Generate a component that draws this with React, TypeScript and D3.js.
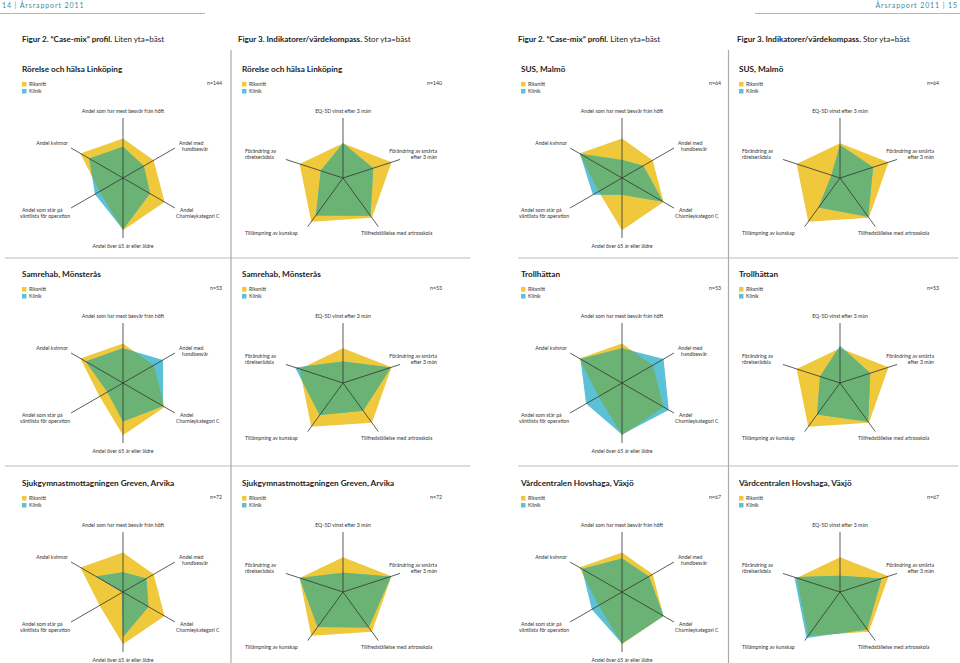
import React from "react";
import * as d3 from "d3";

const W = 960;
const H = 663;

const hexAxes = [
  "Andel som har mest besvär från höft",
  "Andel med handbesvär",
  "Andel Charnleykategori C",
  "Andel över 65 år eller äldre",
  "Andel som står på väntlista för operation",
  "Andel kvinnor",
];
const pentAxes = [
  "EQ-5D vinst efter 3 mån",
  "Förändring av smärta efter 3 mån",
  "Tillfredställelse med artrosskola",
  "Tillämpning av kunskap",
  "Förändring av rörelserädsla",
];

const riksHex = [0.66, 0.59, 0.8, 0.87, 0.45, 0.82];
const riksPent = [0.58, 0.85, 0.82, 0.9, 0.76];

const clinicNames = [
  "Rörelse och hälsa Linköping",
  "SUS, Malmö",
  "Samrehab, Mönsterås",
  "Trollhättan",
  "Sjukgymnastmottagningen Greven, Arvika",
  "Vårdcentralen Hovshaga, Växjö",
];
const nHex = [144, 64, 53, 53, 72, 67];
const nPent = [140, 64, 53, 53, 72, 67];

const klinikHex = [
  [0.52, 0.4, 0.52, 0.86, 0.54, 0.65],
  [0.3, 0.41, 0.79, 0.28, 0.56, 0.81],
  [0.58, 0.77, 0.77, 0.64, 0.3, 0.72],
  [0.58, 0.8, 0.9, 0.86, 0.69, 0.8],
  [0.33, 0.45, 0.49, 0.75, 0.02, 0.52],
  [0.56, 0.52, 0.8, 0.86, 0.58, 0.77],
];
const klinikPent = [
  [0.58, 0.53, 0.78, 0.77, 0.39],
  [0.55, 0.58, 0.8, 0.61, 0.15],
  [0.36, 0.84, 0.57, 0.66, 0.84],
  [0.62, 0.53, 0.8, 0.65, 0.35],
  [0.32, 0.84, 0.73, 0.72, 0.76],
  [0.27, 0.73, 0.77, 0.95, 0.8],
];

const YELLOW = "#EFC83C";
const BLUE = "#5CC1D5";
const GREEN = "#6BB374";
const TEXT = "#333";
const FONT = "Lato, 'Open Sans', sans-serif";
const R = 60;

const rScale = d3.scaleLinear().domain([0, 1]).range([0, R]);

function Radar({ id, cx, cy, name, n, riks, klinik, kind }) {
  const k = riks.length;
  const angle = (i) => (i * 2 * Math.PI) / k;
  const line = d3
    .lineRadial()
    .angle((d, i) => angle(i))
    .radius((d) => rScale(d))
    .curve(d3.curveLinearClosed);
  const tx = cx - 101;
  const lab = { fontFamily: FONT, fontSize: 5.2, fill: TEXT };
  return (
    <g>
      <text x={tx} y={cy - 106} fontFamily={FONT} fontSize={8.2} fontWeight={700} fill="#222">
        {name}
      </text>
      <rect x={tx} y={cy - 96} width={4.5} height={4.5} fill={YELLOW} />
      <rect x={tx} y={cy - 89} width={4.5} height={4.5} fill={BLUE} />
      <text x={tx + 7} y={cy - 92} {...lab}>Riksnitt</text>
      <text x={tx + 7} y={cy - 85} {...lab}>Klinik</text>
      <text x={cx + 99} y={cy - 93} textAnchor="end" {...lab}>{"n=" + n}</text>
      <defs>
        <clipPath id={"clip" + id}>
          <path d={line(riks)} transform={`translate(${cx},${cy})`} />
        </clipPath>
      </defs>
      <path d={line(riks)} transform={`translate(${cx},${cy})`} fill={YELLOW} />
      <path d={line(klinik)} transform={`translate(${cx},${cy})`} fill={BLUE} />
      <g clipPath={`url(#clip${id})`}>
        <path d={line(klinik)} transform={`translate(${cx},${cy})`} fill={GREEN} />
      </g>
      {kind === "hex" ? (
        <g stroke="#333" strokeWidth={0.8}>
          {[0, 1, 2].map((i) => {
            const a = angle(i);
            return (
              <line
                key={i}
                x1={cx + rScale(1) * Math.sin(a)}
                y1={cy - rScale(1) * Math.cos(a)}
                x2={cx - rScale(1) * Math.sin(a)}
                y2={cy + rScale(1) * Math.cos(a)}
              />
            );
          })}
        </g>
      ) : (
        <g stroke="#333" strokeWidth={0.8}>
          {riks.map((_, i) => {
            const a = angle(i);
            return (
              <line
                key={i}
                x1={cx}
                y1={cy}
                x2={cx + rScale(1) * Math.sin(a)}
                y2={cy - rScale(1) * Math.cos(a)}
              />
            );
          })}
        </g>
      )}
      {kind === "hex" ? (
        <g {...lab}>
          <text x={cx} y={cy - 65} textAnchor="middle">{hexAxes[0]}</text>
          <text x={cx + 56} y={cy - 33}>Andel med</text>
          <text x={cx + 59} y={cy - 27}>handbesvär</text>
          <text x={cx + 57} y={cy + 34}>Andel</text>
          <text x={cx + 53} y={cy + 40}>Charnleykategori C</text>
          <text x={cx} y={cy + 70} textAnchor="middle">{hexAxes[3]}</text>
          <text x={cx - 101} y={cy + 34}>Andel som står på</text>
          <text x={cx - 103} y={cy + 40}>väntlista för operation</text>
          <text x={cx - 55} y={cy - 33} textAnchor="end">{hexAxes[5]}</text>
        </g>
      ) : (
        <g {...lab}>
          <text x={cx} y={cy - 65} textAnchor="middle">{pentAxes[0]}</text>
          <text x={cx + 94} y={cy - 25} textAnchor="end">Förändring av smärta</text>
          <text x={cx + 94} y={cy - 19} textAnchor="end">efter 3 mån</text>
          <text x={cx + 18} y={cy + 57}>{pentAxes[2]}</text>
          <text x={cx - 98} y={cy + 57}>{pentAxes[3]}</text>
          <text x={cx - 98} y={cy - 25}>Förändring av</text>
          <text x={cx - 98} y={cy - 19}>rörelserädsla</text>
        </g>
      )}
    </g>
  );
}

const colCx = [123, 343, 622, 840];
const rowCy = [178, 383, 592];

export default function App() {
  const panels = [];
  clinicNames.forEach((name, ci) => {
    const row = Math.floor(ci / 2);
    const page = ci % 2;
    panels.push(
      <Radar
        key={"h" + ci}
        id={"h" + ci}
        cx={colCx[page * 2]}
        cy={rowCy[row]}
        name={name}
        n={nHex[ci]}
        riks={riksHex}
        klinik={klinikHex[ci]}
        kind="hex"
      />
    );
    panels.push(
      <Radar
        key={"p" + ci}
        id={"p" + ci}
        cx={colCx[page * 2 + 1]}
        cy={rowCy[row]}
        name={name}
        n={nPent[ci]}
        riks={riksPent}
        klinik={klinikPent[ci]}
        kind="pent"
      />
    );
  });
  const figT = { fontFamily: FONT, fontSize: 8, fill: "#222" };
  return (
    <svg
      width={W}
      height={H}
      style={{ position: "absolute", left: 0, top: 0, background: "#fff" }}
    >
      <rect width={W} height={H} fill="#fff" />
      <text x={2} y={8} fontFamily={FONT} fontSize={7} fill="#3d8aa3" letterSpacing={0.9}>
        14 | Årsrapport 2011
      </text>
      <line x1={0} x2={205} y1={13.5} y2={13.5} stroke="#7fb3c4" strokeWidth={0.8} />
      <text x={958} y={8} textAnchor="end" fontFamily={FONT} fontSize={7} fill="#3d8aa3" letterSpacing={0.9}>
        Årsrapport 2011 | 15
      </text>
      <line x1={755} x2={960} y1={13.5} y2={13.5} stroke="#7fb3c4" strokeWidth={0.8} />

      {[22, 518].map((x) => (
        <text key={"f2" + x} x={x} y={42} {...figT}>
          <tspan fontWeight={700}>Figur 2. “Case-mix” profil.</tspan>
          <tspan> Liten yta=bäst</tspan>
        </text>
      ))}
      {[238, 737].map((x) => (
        <text key={"f3" + x} x={x} y={42} {...figT}>
          <tspan fontWeight={700}>Figur 3. Indikatorer/värdekompass.</tspan>
          <tspan> Stor yta=bäst</tspan>
        </text>
      ))}
      <line x1={231} x2={231} y1={50} y2={H} stroke="#aaa" strokeWidth={1.2} />
      <line x1={728.5} x2={728.5} y1={50} y2={H} stroke="#aaa" strokeWidth={1.2} />
      {[258, 466].map((y) => (
        <g key={"s" + y}>
          <line x1={5} x2={470} y1={y} y2={y} stroke="#aaa" strokeWidth={0.8} />
          <line x1={518} x2={958} y1={y} y2={y} stroke="#aaa" strokeWidth={0.8} />
        </g>
      ))}
      {panels}
    </svg>
  );
}
